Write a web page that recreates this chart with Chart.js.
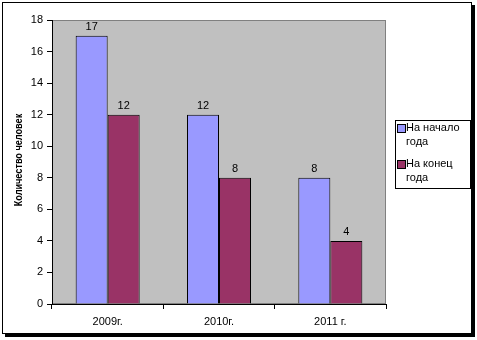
<!DOCTYPE html>
<html>
<head>
<meta charset="utf-8">
<script src="https://cdn.jsdelivr.net/npm/chart.js@4"></script>
<style>
  body { margin: 0; background: #fff; }
  #wrap { width: 477px; height: 340px; }
</style>
</head>
<body>
<div id="wrap"><canvas id="chart" width="477" height="340"></canvas></div>
<script>
const years = ['2009г.', '2010г.', '2011 г.'];
const startValues = [17, 12, 8];
const endValues = [12, 8, 4];
const seriesNames = [['На начало', 'года'], ['На конец', 'года']];
const yTitle = 'Количество человек';
const yTicksMax = 18;

const FONT = 'Liberation Sans, Arial, sans-serif';

// frame, plot background, axis title, value labels and legend
const decorPlugin = {
    id: 'decor',
    beforeDraw(chart) {
        const ctx = chart.ctx;
        const a = chart.chartArea;
        ctx.save();
        ctx.fillStyle = '#fff';
        ctx.fillRect(0, 0, chart.width, chart.height);
        // shadow + frame
        ctx.fillStyle = '#000';
        ctx.fillRect(5, 5, 470, 332);
        ctx.fillStyle = '#fff';
        ctx.fillRect(2, 2, 470, 332);
        ctx.strokeStyle = '#000';
        ctx.lineWidth = 1;
        ctx.strokeRect(2.5, 2.5, 469, 331);
        // plot area
        ctx.fillStyle = '#c0c0c0';
        ctx.fillRect(a.left, a.top, a.right - a.left, a.bottom - a.top);
        ctx.strokeStyle = '#808080';
        ctx.strokeRect(a.left + 0.5, a.top + 0.5, a.right - a.left - 1, a.bottom - a.top - 1);

        // y axis title (narrow like the original)
        ctx.translate(19, 160);
        ctx.rotate(-Math.PI / 2);
        ctx.scale(0.83, 1);
        ctx.font = 'bold 11px ' + FONT;
        ctx.fillStyle = '#000';
        ctx.textAlign = 'center';
        ctx.textBaseline = 'middle';
        ctx.fillText(yTitle, 0, 0);
        ctx.restore();
    },
    afterDatasetsDraw(chart) {
        const ctx = chart.ctx;
        ctx.save();
        ctx.font = '11px ' + FONT;
        ctx.fillStyle = '#000';
        ctx.textAlign = 'center';
        ctx.textBaseline = 'bottom';
        chart.data.datasets.forEach(function(ds, i) {
            chart.getDatasetMeta(i).data.forEach(function(bar, j) {
                ctx.fillText(ds.data[j], bar.x, bar.y - 3);
            });
        });

        // legend
        const lx = 395, ly = 120, lw = 75, lh = 68;
        ctx.fillStyle = '#fff';
        ctx.fillRect(lx, ly, lw, lh);
        ctx.strokeStyle = '#000';
        ctx.strokeRect(lx + 0.5, ly + 0.5, lw, lh);
        ctx.textAlign = 'left';
        ctx.textBaseline = 'middle';
        chart.data.datasets.forEach(function(ds, i) {
            const y0 = ly + 8 + i * 36;
            ctx.fillStyle = ds.backgroundColor;
            ctx.fillRect(lx + 3, y0 - 3, 7, 7);
            ctx.strokeStyle = '#000';
            ctx.strokeRect(lx + 2.5, y0 - 3.5, 8, 8);
            ctx.fillStyle = '#000';
            seriesNames[i].forEach(function(line, k) {
                ctx.fillText(line, lx + 11, y0 + k * 14);
            });
        });
        ctx.restore();
    }
};

new Chart(document.getElementById('chart'), {
    type: 'bar',
    data: {
        labels: years,
        datasets: [{
            label: seriesNames[0].join(' '),
            data: startValues,
            backgroundColor: '#9999ff',
            borderColor: '#000',
            borderWidth: 1,
            barPercentage: 1,
            categoryPercentage: 0.575
        }, {
            label: seriesNames[1].join(' '),
            data: endValues,
            backgroundColor: '#993366',
            borderColor: '#000',
            borderWidth: 1,
            barPercentage: 1,
            categoryPercentage: 0.575
        }]
    },
    options: {
        responsive: false,
        animation: false,
        layout: { padding: { top: 20, right: 91, bottom: 0, left: 0 } },
        plugins: {
            legend: { display: false },
            tooltip: { enabled: false }
        },
        scales: {
            x: {
                afterFit: function(scale) { scale.height = 36; },
                border: { color: '#000' },
                grid: { drawOnChartArea: false, tickLength: 5, color: '#000', offset: true },
                ticks: { color: '#000', font: { family: FONT, size: 11 }, padding: 6, maxRotation: 0 }
            },
            y: {
                min: 0,
                max: yTicksMax,
                afterFit: function(scale) { scale.width = 52; },
                border: { color: '#000' },
                grid: { drawOnChartArea: false, tickLength: 5, color: '#000' },
                ticks: { stepSize: 2, color: '#000', font: { family: FONT, size: 11 }, padding: 4 }
            }
        }
    },
    plugins: [decorPlugin]
});
</script>
</body>
</html>
